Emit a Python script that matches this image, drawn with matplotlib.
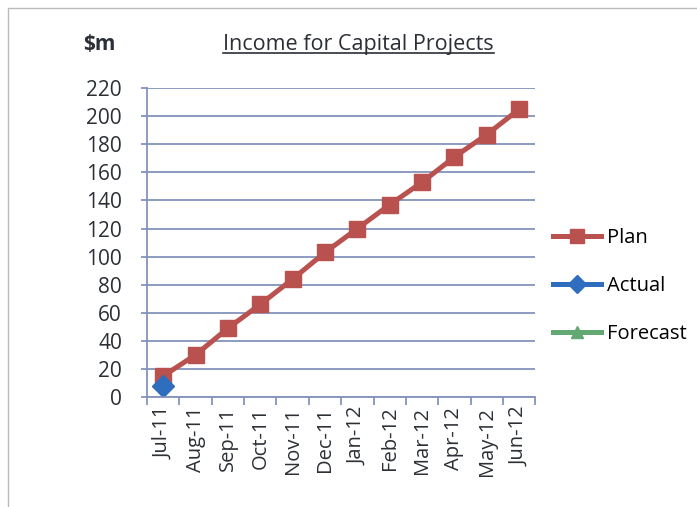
import matplotlib.pyplot as plt
import numpy as np

months = ["Jul-11", "Aug-11", "Sep-11", "Oct-11", "Nov-11", "Dec-11",
          "Jan-12", "Feb-12", "Mar-12", "Apr-12", "May-12", "Jun-12"]
plan = [15, 30, 49, 66, 84, 103, 120, 137, 153, 171, 187, 205]
actual = [8] + [np.nan] * 11
forecast = [np.nan] * 12

plt.rcParams['font.family'] = ['Open Sans', 'DejaVu Sans']

fig = plt.figure(figsize=(6.97, 5.07), dpi=100)
ax = fig.add_axes([0.211, 0.217, 0.557, 0.609])

x = np.arange(len(months))
grid_c = "#8593bd"
txt_c = "#2b2f36"
ax.plot(x, plan, color="#b9514f", lw=3.6, marker="s", ms=12, label="Plan")
ax.plot(x, actual, color="#2f6dbf", lw=3.6, marker="D", ms=11, label="Actual")
ax.plot(x, forecast, color="#62a872", lw=3.6, marker="^", ms=11, label="Forecast")

ax.set_xlim(-0.5, 11.5)
ax.set_ylim(0, 220)
ax.set_yticks(range(0, 221, 20))
ax.yaxis.grid(True, color=grid_c, lw=1.3)
ax.set_axisbelow(True)
ax.set_xticks(x)
ax.set_xticklabels(months, rotation=90, fontsize=14.5, color=txt_c)
ax.tick_params(axis="x", length=0, pad=7)
ax.set_xticks(np.arange(-0.5, 12, 1), minor=True)
ax.tick_params(axis="x", which="minor", length=6, color=grid_c, width=1.3)
ax.tick_params(axis="y", labelsize=15, length=4, pad=14, color=grid_c, width=1.3,
               labelcolor=txt_c)
for s in ["top", "right"]:
    ax.spines[s].set_visible(False)
for s in ["left", "bottom"]:
    ax.spines[s].set_color(grid_c)
    ax.spines[s].set_linewidth(1.3)

fig.text(0.143, 0.912, "$m", fontsize=15, fontweight="bold", color=txt_c, ha="center", va="center")
title = fig.text(0.514, 0.912, "Income for Capital Projects", fontsize=15.5, color=txt_c,
                 ha="center", va="center")

leg = fig.legend(*ax.get_legend_handles_labels(), loc="center left",
                 bbox_to_anchor=(0.793, 0.436), bbox_transform=fig.transFigure,
                 frameon=False, fontsize=14.5, handlelength=2.4, handletextpad=0.3,
                 labelspacing=1.4, borderpad=0, borderaxespad=0, markerscale=0.8)

# underline the title under its own text
fig.canvas.draw()
bb = title.get_window_extent().transformed(fig.transFigure.inverted())
fig.add_artist(plt.Line2D([bb.x0, bb.x1], [bb.y0 + 0.004, bb.y0 + 0.004], color=txt_c, lw=1.2))

# light frame round the chart
fig.add_artist(plt.Rectangle((0.012, -0.01), 1.0, 0.995, fill=False, ec="#bbbbbb", lw=1,
                             transform=fig.transFigure))

fig.savefig("out.png", dpi=100)
